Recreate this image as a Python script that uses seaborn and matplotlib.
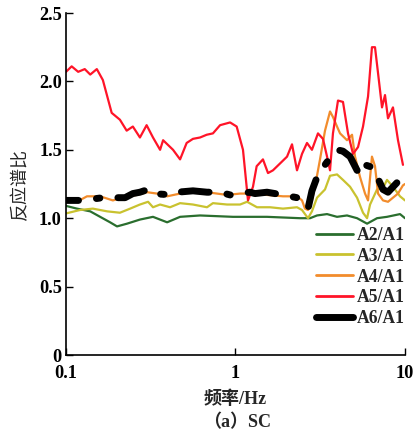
import numpy as np
import pandas as pd
import matplotlib
matplotlib.use("Agg")
import matplotlib.pyplot as plt
import seaborn as sns
from matplotlib.lines import Line2D

# ---- data ----
a2_f = [0.100, 0.116, 0.139, 0.159, 0.182, 0.200, 0.229, 0.273, 0.326, 0.395, 0.471, 0.618, 0.966,
        1.534, 2.404, 2.754, 3.026, 3.468, 3.972, 4.549, 5.214, 5.973, 6.838, 7.831, 9.346, 10.0]
a2_v = [1.09, 1.07, 1.05, 1.01, 0.97, 0.94, 0.96, 0.99, 1.01, 0.97, 1.01, 1.02, 1.01,
        1.01, 1.00, 1.00, 1.02, 1.03, 1.01, 1.02, 1.00, 0.96, 1.00, 1.01, 1.03, 1.00]

a3_f = [0.100, 0.121, 0.144, 0.175, 0.208, 0.239, 0.273, 0.305, 0.326, 0.359, 0.411, 0.471, 0.561,
        0.679, 0.736, 0.891, 1.064, 1.170, 1.339, 1.599, 1.906, 2.306, 2.468, 2.678, 2.825, 3.026,
        3.373, 3.611, 3.972, 4.306, 4.740, 5.214, 5.653, 5.973, 6.222, 6.838, 7.418, 7.831, 8.492,
        9.346, 10.0]
a3_v = [1.035, 1.06, 1.07, 1.05, 1.04, 1.07, 1.10, 1.12, 1.08, 1.10, 1.08, 1.11, 1.10,
        1.08, 1.11, 1.10, 1.10, 1.12, 1.08, 1.08, 1.07, 1.08, 1.06, 1.00, 1.05, 1.15,
        1.21, 1.31, 1.32, 1.28, 1.23, 1.15, 1.04, 1.00, 1.10, 1.21, 1.22, 1.28, 1.23,
        1.16, 1.13]

a4_f = [0.100, 0.116, 0.133, 0.159, 0.189, 0.229, 0.262, 0.301, 0.344, 0.395, 0.471, 0.539, 0.679,
        0.891, 1.064, 1.268, 1.534, 1.906, 2.306, 2.468, 2.570, 2.678, 2.825, 2.944, 3.152, 3.373,
        3.611, 3.758, 3.972, 4.138, 4.549, 4.869, 5.073, 5.432, 5.811, 6.053, 6.383, 6.653, 6.934,
        7.418, 7.937, 8.492, 9.092, 9.727, 10.0]
a4_v = [1.13, 1.12, 1.16, 1.16, 1.13, 1.16, 1.17, 1.19, 1.18, 1.16, 1.18, 1.21, 1.19,
        1.17, 1.18, 1.18, 1.17, 1.16, 1.16, 1.13, 1.07, 1.06, 1.13, 1.23, 1.43, 1.64,
        1.78, 1.74, 1.67, 1.62, 1.57, 1.61, 1.45, 1.30, 1.18, 1.13, 1.45, 1.38, 1.18,
        1.13, 1.12, 1.15, 1.18, 1.24, 1.25]

a5_f = [0.100, 0.108, 0.118, 0.129, 0.139, 0.152, 0.165, 0.186, 0.208, 0.228, 0.248, 0.273, 0.299,
        0.326, 0.359, 0.374, 0.428, 0.471, 0.515, 0.561, 0.618, 0.676, 0.736, 0.811, 0.929, 1.016,
        1.107, 1.185, 1.268, 1.333, 1.452, 1.555, 1.664, 1.831, 2.014, 2.155, 2.306, 2.468, 2.641,
        2.825, 3.066, 3.281, 3.513, 3.611, 3.758, 4.024, 4.306, 4.611, 4.935, 5.284, 5.653, 6.053,
        6.383, 6.653, 6.934, 7.318, 7.622, 7.937, 8.492, 9.092, 9.727]
a5_v = [2.07, 2.11, 2.07, 2.09, 2.05, 2.09, 2.01, 1.77, 1.72, 1.64, 1.67, 1.59, 1.68,
        1.59, 1.50, 1.57, 1.50, 1.43, 1.55, 1.58, 1.59, 1.61, 1.62, 1.68, 1.70, 1.67,
        1.50, 1.13, 1.23, 1.38, 1.43, 1.33, 1.35, 1.40, 1.45, 1.54, 1.35, 1.47, 1.55,
        1.50, 1.62, 1.58, 1.42, 1.35, 1.62, 1.86, 1.85, 1.62, 1.47, 1.52, 1.67, 1.89,
        2.25, 2.25, 2.06, 1.81, 1.90, 1.73, 1.81, 1.57, 1.39]

a6_f = [0.100, 0.124, 0.165, 0.223, 0.248, 0.273, 0.305, 0.326, 0.422, 0.452, 0.561, 0.679, 0.811,
        0.929, 1.218, 1.303, 1.534, 1.906, 2.306, 2.678, 2.825, 3.026, 3.281, 3.611, 3.972, 4.306,
        4.740, 5.214, 5.570, 5.811, 6.470, 7.418, 7.937, 8.970, 9.727, 10.0]
a6_v = [1.13, 1.13, 1.15, 1.15, 1.18, 1.19, 1.21, 1.18, 1.17, 1.19, 1.20, 1.19, 1.19,
        1.17, 1.19, 1.18, 1.19, 1.17, 1.15, 1.07, 1.20, 1.30, 1.37, 1.44, 1.50, 1.49,
        1.45, 1.35, 1.32, 1.39, 1.37, 1.21, 1.19, 1.26, 1.33, 1.34]

labels = ["A2/A1", "A3/A1", "A4/A1", "A5/A1", "A6/A1"]
colors = ["#2a6e2e", "#c9c22f", "#f28c2c", "#ff1428", "#000000"]
x_ticks = [0.1, 1, 10]
x_ticklabels = ["0.1", "1", "10"]
y_ticks = [0, 0.5, 1.0, 1.5, 2.0, 2.5]
y_ticklabels = ["0", "0.5", "1.0", "1.5", "2.0", "2.5"]

series = [(a2_f, a2_v), (a3_f, a3_v), (a4_f, a4_v), (a5_f, a5_v), (a6_f, a6_v)]

sns.set_theme(style="ticks")
plt.rcParams['font.family'] = ['Liberation Serif', 'Noto Sans CJK SC', 'DejaVu Sans']

fig = plt.figure(figsize=(4.14, 4.36), dpi=100)
ax = fig.add_axes([66/414, 1 - 355/436, (405 - 66)/414, (355 - 13)/436])

for (f, v), lab, col in zip(series, labels, colors):
    df = pd.DataFrame({"freq": f, "ratio": v})
    lw = 5.0 if lab == "A6/A1" else 1.6
    sns.lineplot(data=df, x="freq", y="ratio", color=col, lw=lw, ax=ax,
                 sort=False, estimator=None, legend=False)
    ln = ax.lines[-1]
    if lab == "A6/A1":
        ln.set_linestyle((2.2, [4.0, 2.6, 0.5, 2.6]))
        ln.set_dash_capstyle('round')
        ln.set_solid_capstyle('round')

ax.set_xscale('log')
ax.set_xlim(0.1, 10)
ax.set_ylim(0, 2.5)
ax.set_xticks(x_ticks)
ax.set_xticklabels(x_ticklabels)
ax.xaxis.set_minor_locator(matplotlib.ticker.NullLocator())
ax.set_yticks(y_ticks)
ax.set_yticklabels(y_ticklabels)
sns.despine(ax=ax)
for s in ['left', 'bottom']:
    ax.spines[s].set_linewidth(1.2)
    ax.spines[s].set_color('black')
ax.tick_params(direction='in', length=5, width=1.0, colors='black', labelsize=13.2)
ax.tick_params(axis='x', pad=7.5)
ax.tick_params(axis='y', pad=3)
for t in ax.get_xticklabels() + ax.get_yticklabels():
    t.set_fontweight('bold')

ax.set_xlabel("频率/Hz", fontsize=13, fontweight='bold', labelpad=6)
ax.set_ylabel("反应谱比", fontsize=13, labelpad=7)
ax.yaxis.label.set_family(['Noto Sans CJK SC'])
ax.xaxis.label.set_family(['Liberation Serif', 'Noto Sans CJK SC'])

handles = [Line2D([0], [0], color=c, lw=(5.0 if l == "A6/A1" else 2.0), solid_capstyle='round')
           for l, c in zip(labels, colors)]
leg = ax.legend(handles, labels, loc='upper right', bbox_to_anchor=(1.0, 0.375), frameon=False,
                handlelength=2.1, handletextpad=0.2, labelspacing=0.22, borderpad=0, borderaxespad=0,
                prop={'family': 'Liberation Serif', 'weight': 'bold', 'size': 12.7})

fig.text(237/414, 1 - 423/436, "（a）SC", ha='center', va='center', fontsize=13,
         fontweight='bold', family=['Liberation Serif', 'Noto Sans CJK SC'])

fig.savefig("out.png", dpi=100)
